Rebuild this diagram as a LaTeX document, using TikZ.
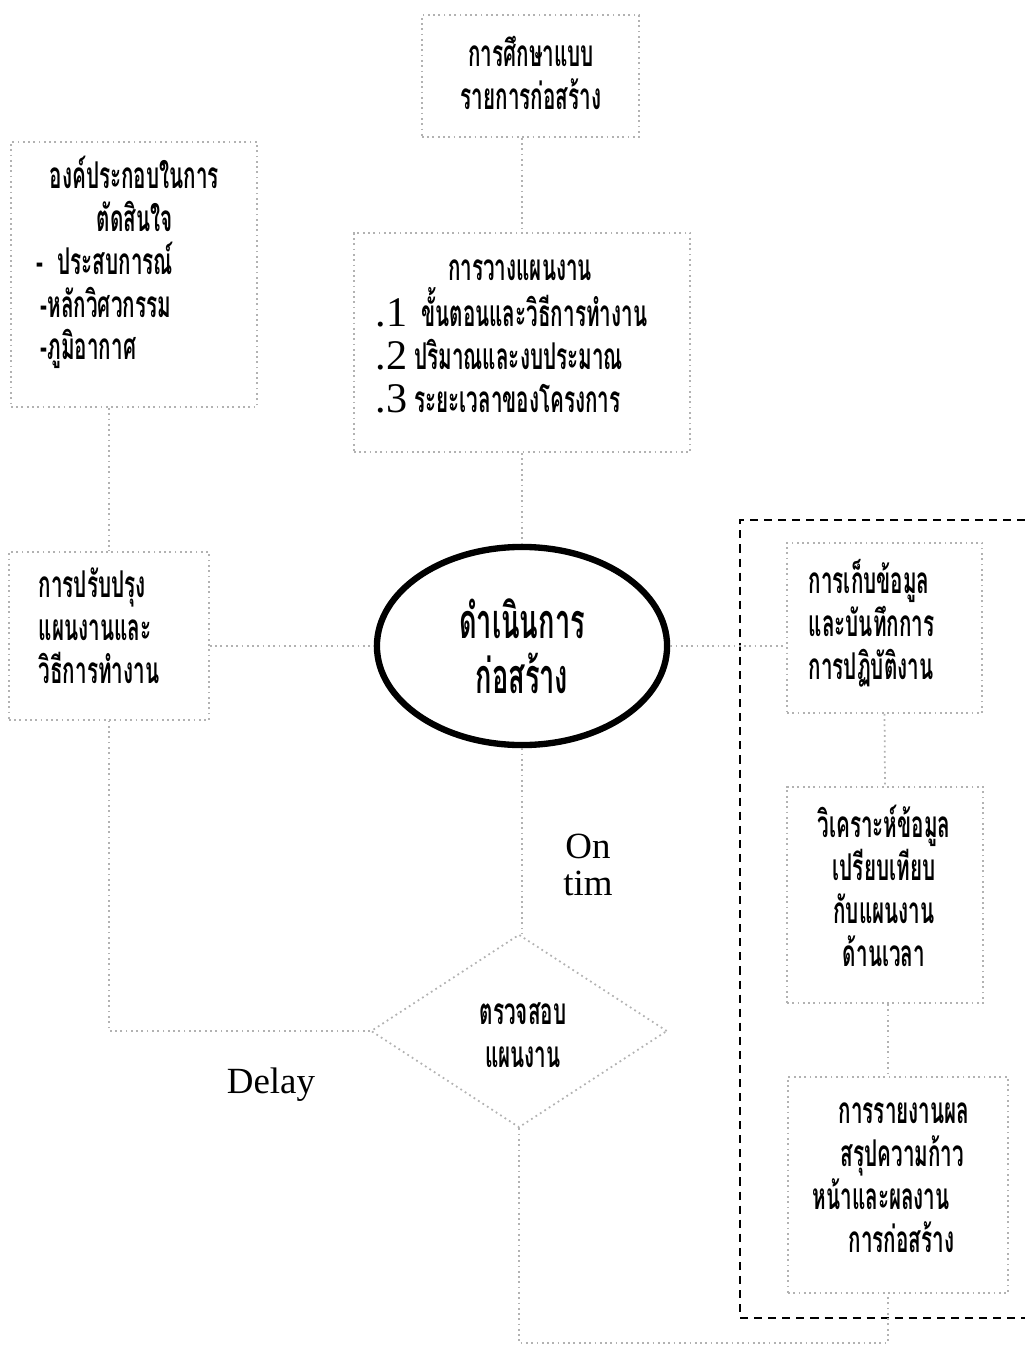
\documentclass[tikz,border=0pt]{standalone}
\usepackage{fontspec}
\setmainfont{Liberation Serif}
\newfontfamily\thaifont[Script=Thai,FakeStretch=0.56]{Loma}
\usetikzlibrary{shapes.geometric}

\tikzset{
  faint/.style={draw=black!30,line width=0.5pt,densely dotted},
  box/.style={faint,rectangle,inner sep=0pt},
  link/.style={black!30,line width=0.5pt,densely dotted},
  thai/.style={font=\thaifont\bfseries\fontsize{10.5}{12.2}\selectfont,inner sep=0pt},
  thaibig/.style={font=\thaifont\bfseries\fontsize{13.8}{15.6}\selectfont,inner sep=0pt},
  latin/.style={font=\fontsize{10.5}{10.5}\selectfont,inner sep=0pt},
}
\newcommand{\itemno}[1]{{\rmfamily\mdseries\fontsize{12}{12}\selectfont#1}}

\begin{document}
\begin{tikzpicture}[x=0.01cm,y=-0.01cm]
  \useasboundingbox (0,0) rectangle (1025,1349);
  % boxes
  \node[box,minimum width=2.17cm,minimum height=1.22cm] (study) at (530.5,76) {};
  \node[box,minimum width=2.46cm,minimum height=2.65cm] (factors) at (134,274.5) {};
  \node[box,minimum width=3.36cm,minimum height=2.19cm] (plan) at (522,342.5) {};
  \node[box,minimum width=2.00cm,minimum height=1.68cm] (adjust) at (109,636) {};
  \node[draw,ellipse,line width=1.8pt,minimum width=2.9cm,minimum height=1.98cm] (work) at (522,646) {};
  \node[faint,diamond,minimum width=2.96cm,minimum height=1.93cm,inner sep=0pt] (check) at (519,1031) {};
  \node[box,minimum width=1.95cm,minimum height=1.70cm] (record) at (884.5,628) {};
  \node[box,minimum width=1.96cm,minimum height=2.16cm] (analyze) at (885,895) {};
  \node[box,minimum width=2.20cm,minimum height=2.16cm] (report) at (898,1185) {};
  % monitoring group
  \draw[line width=0.8pt,dash pattern=on 2.3pt off 1.7pt] (1025,520) -- (740,520) -- (740,1318) -- (1025,1318);
  % texts
  \node[thai,align=center] (study-t) at (531,73) {การศึกษาแบบ\\รายการก่อสร้าง};
  \node[thai,align=left,anchor=west] (factors-t) at (36,262.5)
    {\hspace*{0.13cm}องค์ประกอบในการ\\\hspace*{0.6cm}ตัดสินใจ\\-~~ประสบการณ์\\\hspace*{0.04cm}-หลักวิศวกรรม\\\hspace*{0.04cm}-ภูมิอากาศ};
  \node[thai] (plan-t) at (520,270) {การวางแผนงาน};
  \node[thai,align=left,anchor=west] (plan-l) at (375,350)
    {\itemno{.1}~~ขั้นตอนและวิธีการทำงาน\\\itemno{.2} ปริมาณและงบประมาณ\\\itemno{.3} ระยะเวลาของโครงการ};
  \node[thai,align=left,anchor=west] (adjust-t) at (38,626) {การปรับปรุง\\แผนงานและ\\วิธีการทำงาน};
  \node[thaibig,align=center] (work-t) at (522,646) {ดำเนินการ\\ก่อสร้าง};
  \node[thai,align=left,anchor=west] (record-t) at (808,623) {การเก็บข้อมูล\\และบันทึกการ\\การปฏิบัติงาน};
  \node[thai,align=center] (analyze-t) at (884,886) {วิเคราะห์ข้อมูล\\เปรียบเทียบ\\กับแผนงาน\\ด้านเวลา};
  \node[thai,align=left,anchor=west] (report-t) at (812,1178)
    {\hspace*{0.26cm}การรายงานผล\\\hspace*{0.28cm}สรุปความก้าว\\หน้าและผลงาน\\\hspace*{0.36cm}การก่อสร้าง};
  \node[thai,align=center] (check-t) at (523,1035) {ตรวจสอบ\\แผนงาน};
  \node[latin,align=center] (ontime) at (588,865) {On\\tim};
  \node[latin] (delay) at (271,1085) {Delay};
  % connectors
  \coordinate (base) at (0,1343);
  \draw[link] (plan.north |- study.south) -- (plan.north);
  \draw[link] (plan.south) -- (work.north);
  \draw[link] (adjust.north |- factors.south) -- (adjust.north);
  \draw[link] (adjust.east |- work.west) -- (work.west);
  \draw[link] (work.east) -- (record.west |- work.east);
  \draw[link] (record.south) -- (analyze.north);
  \draw[link] ([xshift=0.03cm]analyze.south) -- ([xshift=0.03cm]analyze.south |- report.north);
  \draw[link] (work.south) -- (work.south |- check.north);
  \draw[link] (check.west) -- (adjust.south |- check.west) -- (adjust.south);
  \draw[link] (check.south) |- ([xshift=-0.1cm]report.south |- base) -- ([xshift=-0.1cm]report.south);
\end{tikzpicture}
\end{document}
